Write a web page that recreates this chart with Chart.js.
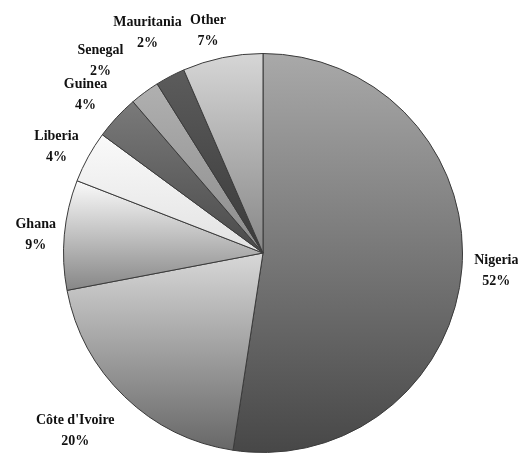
<!DOCTYPE html>
<html>
<head>
<meta charset="utf-8">
<script src="https://cdn.jsdelivr.net/npm/chart.js@4/dist/chart.umd.min.js"></script>
<style>
  html, body { margin: 0; padding: 0; background: #ffffff; }
  #wrap { width: 518px; height: 456px; position: relative; overflow: hidden; }
</style>
</head>
<body>
<div id="wrap"><canvas id="c" width="518" height="456"></canvas></div>
<script>
// ---- data ----
const countries = ["Nigeria", "Côte d'Ivoire", "Ghana", "Liberia", "Guinea", "Senegal", "Mauritania", "Other"];
const shares = [52.4, 19.6, 8.9, 4.2, 3.6, 2.4, 2.4, 6.5];
const percentLabels = ["52%", "20%", "9%", "4%", "4%", "2%", "2%", "7%"];

// ---- styling (not data) ----
const gradTop    = ["#a9a9a9", "#d8d8d8", "#fbfbfb", "#fafafa", "#7a7a7a", "#b0b0b0", "#5c5c5c", "#d6d6d6"];
const gradBottom = ["#474747", "#676767", "#868686", "#e2e2e2", "#4a4a4a", "#8c8c8c", "#3a3a3a", "#878787"];
// label placement: [angle nudge in degrees, radius factor]
const labelPlace = [[0, 1.173], [2.7, 1.295], [-0.7, 1.143], [-1.5, 1.165], [-1.2, 1.19], [-3.8, 1.263], [0, 1.245], [-2.2, 1.148]];

function sliceGradient(context) {
  const chart = context.chart;
  const i = context.dataIndex;
  const area = chart.chartArea;
  if (!area) return gradTop[i];
  const cx = (area.left + area.right) / 2;
  const cy = (area.top + area.bottom) / 2;
  const r = Math.min(area.right - area.left, area.bottom - area.top) / 2;
  const vals = context.dataset.data;
  const total = vals.reduce((a, b) => a + b, 0);
  let before = 0;
  for (let k = 0; k < i; k++) before += vals[k];
  const a0 = before / total * Math.PI * 2 - Math.PI / 2;
  const a1 = (before + vals[i]) / total * Math.PI * 2 - Math.PI / 2;
  const ys = [cy, cy + Math.sin(a0) * r, cy + Math.sin(a1) * r];
  [-Math.PI / 2, Math.PI / 2, Math.PI * 1.5].forEach(a => {
    if (a >= a0 && a <= a1) ys.push(cy + Math.sin(a) * r);
  });
  const ymin = Math.min(...ys), ymax = Math.max(...ys);
  const g = chart.ctx.createLinearGradient(0, ymin, 0, ymax + 0.01);
  g.addColorStop(0, gradTop[i]);
  g.addColorStop(1, gradBottom[i]);
  return g;
}

const labelPlugin = {
  id: 'sliceLabels',
  afterDatasetsDraw(chart) {
    const ctx = chart.ctx;
    const meta = chart.getDatasetMeta(0);
    ctx.save();
    ctx.fillStyle = '#111111';
    ctx.font = 'bold 14px "Liberation Serif", "Times New Roman", serif';
    ctx.textAlign = 'center';
    ctx.textBaseline = 'middle';
    meta.data.forEach((arc, i) => {
      const p = arc.getProps(['x', 'y', 'startAngle', 'endAngle', 'outerRadius'], true);
      const mid = (p.startAngle + p.endAngle) / 2 + labelPlace[i][0] * Math.PI / 180;
      const R = p.outerRadius * labelPlace[i][1];
      const lx = p.x + Math.cos(mid) * R;
      const ly = p.y + Math.sin(mid) * R;
      ctx.fillText(chart.data.labels[i], lx, ly - 10.5);
      ctx.fillText(percentLabels[i], lx, ly + 10.5);
    });
    ctx.restore();
  }
};

new Chart(document.getElementById('c'), {
  type: 'pie',
  data: {
    labels: countries,
    datasets: [{
      data: shares,
      backgroundColor: sliceGradient,
      borderColor: '#3a3a3a',
      borderWidth: 1
    }]
  },
  options: {
    responsive: false,
    animation: false,
    layout: { padding: { left: 63, right: 55, top: 53, bottom: 3 } },
    plugins: {
      legend: { display: false },
      tooltip: { enabled: false }
    }
  },
  plugins: [labelPlugin]
});
</script>
</body>
</html>
